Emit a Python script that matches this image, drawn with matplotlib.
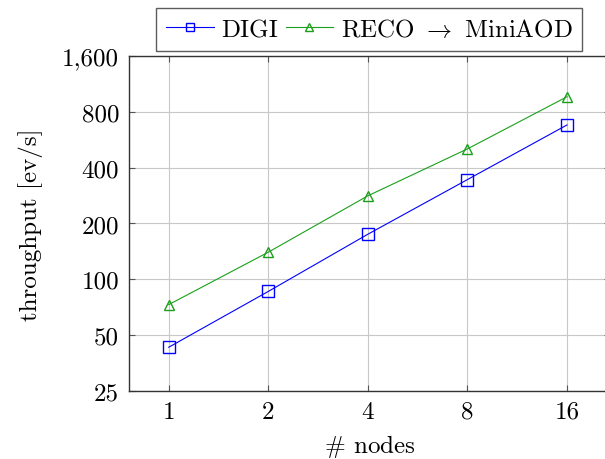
import numpy as np
import matplotlib
matplotlib.use("Agg")
import matplotlib.pyplot as plt
from matplotlib.ticker import FixedLocator, FixedFormatter, NullLocator

plt.rcParams['font.family'] = ['cmr10', 'DejaVu Serif']
plt.rcParams['mathtext.fontset'] = 'cm'
plt.rcParams['axes.unicode_minus'] = False

# data
nodes = [1, 2, 4, 8, 16]
digi = [43, 86, 175, 345, 680]
reco = [73, 140, 282, 505, 965]

xticks = [1, 2, 4, 8, 16]
yticks = [25, 50, 100, 200, 400, 800, 1600]
ytick_labels = ["25", "50", "100", "200", "400", "800", "1,600"]

fs = 18

fig = plt.figure(figsize=(6.05, 4.6), dpi=100)
ax = fig.add_axes([0.213, 0.148, 0.795, 0.728])

ax.plot(nodes, digi, color='blue', lw=0.8, marker='s', ms=8, mfc='none',
        mec='blue', mew=1.0, label='DIGI')
ax.plot(nodes, reco, color='#1aa01a', lw=0.8, marker='^', ms=7, mfc='none',
        mec='#1aa01a', mew=1.0, label=r'RECO $\rightarrow$ MiniAOD')

ax.set_xscale('log', base=2)
ax.set_yscale('log', base=2)
ax.set_xlim(2 ** -0.4, 2 ** 4.43)
ax.set_ylim(25, 1600)

ax.xaxis.set_major_locator(FixedLocator(xticks))
ax.xaxis.set_major_formatter(FixedFormatter([str(x) for x in xticks]))
ax.xaxis.set_minor_locator(NullLocator())
ax.yaxis.set_major_locator(FixedLocator(yticks))
ax.yaxis.set_major_formatter(FixedFormatter(ytick_labels))
ax.yaxis.set_minor_locator(NullLocator())

ax.grid(True, color='#c8c8c8', lw=0.8)
ax.set_axisbelow(True)
ax.tick_params(direction='in', length=4, width=0.8, color='#555555',
               labelsize=fs, top=True, right=True, pad=7)
for s in ax.spines.values():
    s.set_linewidth(1.0)
    s.set_color('#333333')

ax.set_xlabel(r'$\#$ nodes', fontsize=fs, labelpad=7)
ax.set_ylabel('throughput [ev/s]', fontsize=fs, labelpad=14)

leg = ax.legend(loc='lower center', bbox_to_anchor=(0.5, 1.015), ncol=2,
                fontsize=fs, frameon=True, fancybox=False, edgecolor='#333333',
                handlelength=1.9, handletextpad=0.3, columnspacing=0.3,
                borderpad=0.4, borderaxespad=0.0, markerscale=0.75)
leg.get_frame().set_linewidth(1.0)

fig.savefig('out.png', dpi=100)
